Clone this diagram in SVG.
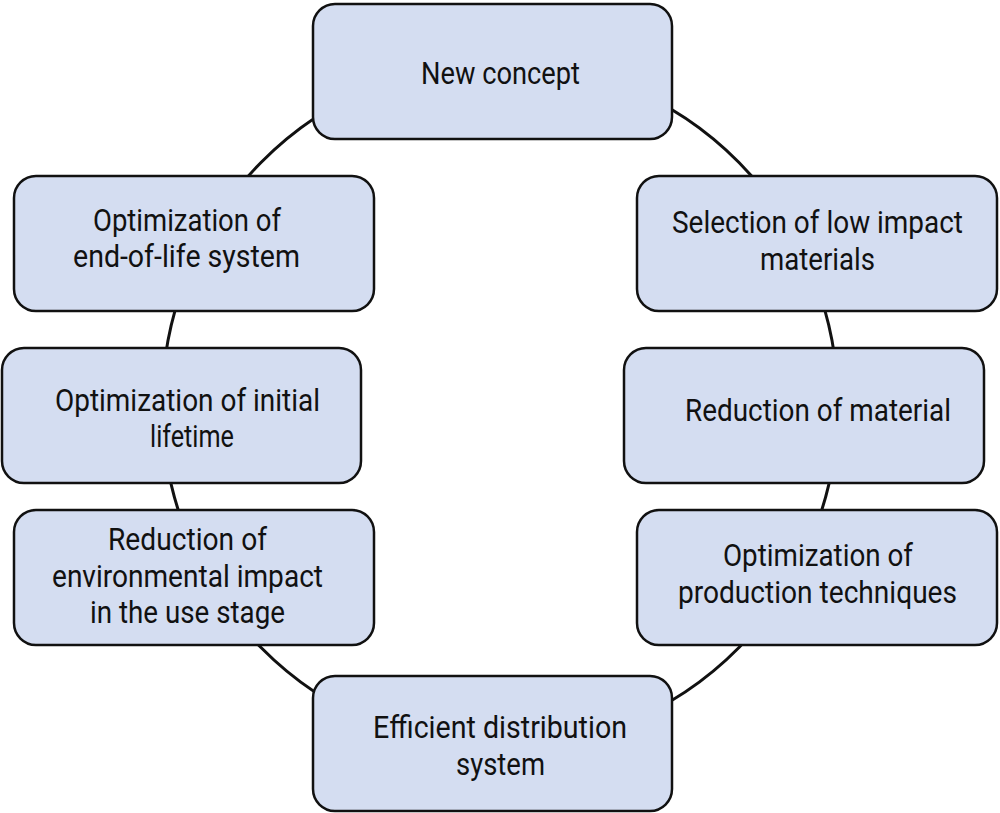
<svg xmlns="http://www.w3.org/2000/svg" width="1000" height="813" viewBox="0 0 1000 813">
<style>
.box{fill:#d4ddf1;stroke:#111;stroke-width:2.5}
.conn{fill:none;stroke:#111;stroke-width:3}
text{font-family:"Liberation Sans Narrow","Roboto",sans-serif;font-size:32px;fill:#111;text-anchor:middle}
</style>
<rect width="1000" height="813" fill="#fff"/>
<g id="connectors">
<ellipse class="conn" cx="500" cy="405" rx="338" ry="343"/>
</g>
<g id="n1"><rect class="box" x="313" y="4" width="359" height="135" rx="22"/>
<text x="500.5" y="84" textLength="159" lengthAdjust="spacingAndGlyphs">New concept</text></g>
<g id="n2"><rect class="box" x="637" y="176" width="360" height="135" rx="22"/>
<text x="817.5" y="233" textLength="291" lengthAdjust="spacingAndGlyphs">Selection of low impact</text>
<text x="817.5" y="270" textLength="115" lengthAdjust="spacingAndGlyphs">materials</text></g>
<g id="n3"><rect class="box" x="624" y="348" width="360" height="135" rx="22"/>
<text x="818" y="421" textLength="266" lengthAdjust="spacingAndGlyphs">Reduction of material</text></g>
<g id="n4"><rect class="box" x="637" y="510" width="360" height="135" rx="22"/>
<text x="818" y="566" textLength="190" lengthAdjust="spacingAndGlyphs">Optimization of</text>
<text x="817.5" y="603" textLength="279" lengthAdjust="spacingAndGlyphs">production techniques</text></g>
<g id="n5"><rect class="box" x="313" y="676" width="359" height="135" rx="22"/>
<text x="500" y="738" textLength="254" lengthAdjust="spacingAndGlyphs">Efficient distribution</text>
<text x="500.5" y="775" textLength="89" lengthAdjust="spacingAndGlyphs">system</text></g>
<g id="n6"><rect class="box" x="14" y="510" width="360" height="135" rx="22"/>
<text x="187.5" y="550" textLength="159" lengthAdjust="spacingAndGlyphs">Reduction of</text>
<text x="187.5" y="587" textLength="271" lengthAdjust="spacingAndGlyphs">environmental impact</text>
<text x="187.5" y="623" textLength="195" lengthAdjust="spacingAndGlyphs">in the use stage</text></g>
<g id="n7"><rect class="box" x="2" y="348" width="359" height="135" rx="22"/>
<text x="187.5" y="411" textLength="265" lengthAdjust="spacingAndGlyphs">Optimization of initial</text>
<text x="192" y="447" textLength="84" lengthAdjust="spacingAndGlyphs">lifetime</text></g>
<g id="n8"><rect class="box" x="14" y="176" width="360" height="135" rx="22"/>
<text x="187" y="231" textLength="188" lengthAdjust="spacingAndGlyphs">Optimization of</text>
<text x="186.5" y="267" textLength="227" lengthAdjust="spacingAndGlyphs">end-of-life system</text></g>
</svg>
